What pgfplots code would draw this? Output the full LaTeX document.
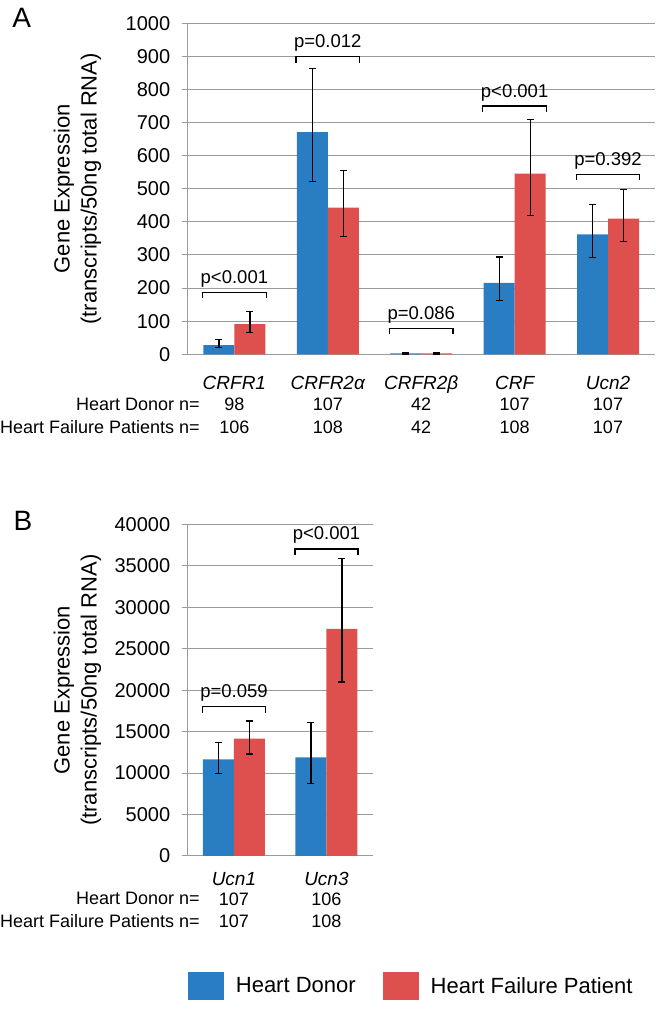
\documentclass[border=0pt]{standalone}
\usepackage{fontspec}
\setmainfont{Liberation Sans}
\usepackage{pgfplots}
\pgfplotsset{compat=1.18}
\definecolor{hdblue}{RGB}{41,126,195}
\definecolor{hfred}{RGB}{221,80,77}
\definecolor{gridgray}{RGB}{155,155,155}
\newcommand{\tickfont}{\fontsize{20bp}{24bp}\selectfont}
\newcommand{\catfont}{\fontsize{19bp}{22bp}\selectfont\itshape}
\newcommand{\rowfont}{\fontsize{18bp}{22bp}\selectfont}
\newcommand{\pfont}{\fontsize{18.5bp}{22bp}\selectfont}
\newcommand{\labfont}{\fontsize{22bp}{27bp}\selectfont}
\newcommand{\legfont}{\fontsize{22bp}{26bp}\selectfont}
\pgfplotsset{
  /pgfplots/ybar legend/.style={/pgfplots/legend image code/.code={\fill[##1] (0bp,-14bp) rectangle (36bp,14bp);}},
  panel/.style={
    scale only axis, anchor=south west, clip=false,
    ymin=0, axis lines=left, axis line style={-, draw=gridgray, line width=1bp},
    ymajorgrids, grid style={draw=gridgray, line width=1bp},
    tick align=outside, major tick length=6bp,
    ytick style={draw=gridgray, line width=1bp},
    xtick style={draw=none},
    yticklabel style={font=\tickfont, xshift=-8bp},
    /pgf/number format/assume math mode=true,
    /pgf/number format/1000 sep={},
    scaled y ticks=false,
    ybar=0pt, bar width=31bp,
    ylabel={Gene Expression\\(transcripts/50ng total RNA)},
    ylabel style={font=\labfont, align=center, anchor=center},
  },
  errs/.style={error bars/.cd, y dir=both, y explicit,
    error bar style={black, line width=1.2bp},
    error mark options={black, line width=1.2bp, mark size=3.5bp, rotate=90}},
}
% bracket: xleft, xright, xcenter, y, label
\newcommand{\bracket}[5]{%
  \draw[black, line width=1.2bp] ([yshift=-6bp]axis cs:#1,#4) -- (axis cs:#1,#4) -- (axis cs:#2,#4) -- ([yshift=-6bp]axis cs:#2,#4);
  \node[font=\pfont, anchor=base, yshift=9bp] at (axis cs:#3,#4) {#5};}

\begin{document}
\begin{tikzpicture}
\path[use as bounding box] (0,0) rectangle (656bp,1009bp);

% ---------------- Panel A ----------------
\begin{axis}[panel,
  at={(187.7bp,654.7bp)}, width=467bp, height=331bp,
  xmin=-0.5, xmax=4.5, ymax=1000,
  ytick={0,100,...,1000},
  xtick={0,1,2,3,4},
  xticklabels={CRFR1,CRFR2α,CRFR2β,CRF,Ucn2},
  xticklabel style={font=\catfont, anchor=base, yshift=-29bp},
  ylabel style={at={(axis description cs:-0.236,0.5)}},
]
\addplot[fill=hdblue, draw=none, errs] coordinates {
  (0,28) += (0,17) -= (0,8)
  (1,671) += (0,192) -= (0,150)
  (2,3) += (0,3) -= (0,2)
  (3,216) += (0,78) -= (0,53)
  (4,362) += (0,91) -= (0,69)
};
\addplot[fill=hfred, draw=none, errs] coordinates {
  (0,91) += (0,38) -= (0,26)
  (1,443) += (0,112) -= (0,88)
  (2,3) += (0,3) -= (0,2)
  (3,546) += (0,163) -= (0,126)
  (4,410) += (0,87) -= (0,70)
};
\bracket{-0.34}{0.34}{0}{187}{p<0.001}
\bracket{0.66}{1.34}{1}{899}{p=0.012}
\bracket{1.66}{2.34}{2}{78}{p=0.086}
\bracket{2.66}{3.34}{3}{750}{p<0.001}
\bracket{3.66}{4.34}{4}{544}{p=0.392}
\node[font=\rowfont, anchor=base] at ([yshift=-56.7bp]axis cs:0,0) {98};
\node[font=\rowfont, anchor=base] at ([yshift=-56.7bp]axis cs:1,0) {107};
\node[font=\rowfont, anchor=base] at ([yshift=-56.7bp]axis cs:2,0) {42};
\node[font=\rowfont, anchor=base] at ([yshift=-56.7bp]axis cs:3,0) {107};
\node[font=\rowfont, anchor=base] at ([yshift=-56.7bp]axis cs:4,0) {107};
\node[font=\rowfont, anchor=base] at ([yshift=-79bp]axis cs:0,0) {106};
\node[font=\rowfont, anchor=base] at ([yshift=-79bp]axis cs:1,0) {108};
\node[font=\rowfont, anchor=base] at ([yshift=-79bp]axis cs:2,0) {42};
\node[font=\rowfont, anchor=base] at ([yshift=-79bp]axis cs:3,0) {108};
\node[font=\rowfont, anchor=base] at ([yshift=-79bp]axis cs:4,0) {107};
\end{axis}

% ---------------- Panel B ----------------
\begin{axis}[panel,
  at={(187.7bp,153bp)}, width=185bp, height=331.7bp,
  xmin=-0.5, xmax=1.5, ymax=40000,
  ytick={0,5000,...,40000},
  xtick={0,1},
  xticklabels={Ucn1,Ucn3},
  xticklabel style={font=\catfont, anchor=base, yshift=-24bp},
  ylabel style={at={(axis description cs:-0.596,0.5)}},
  legend columns=2,
  legend style={at={(axis description cs:0,-0.392)}, anchor=west, draw=none, fill=none,
    inner sep=0pt, font=\legfont, nodes={inner sep=0pt},
    /tikz/every odd column/.append style={column sep=12bp},
    /tikz/every even column/.append style={column sep=27bp}},
  legend cell align=left,
]
\addplot[fill=hdblue, draw=none, errs] coordinates {
  (0,11650) += (0,2020) -= (0,1680)
  (1,11900) += (0,4220) -= (0,3140)
};
\addlegendentry{Heart Donor}
\addplot[fill=hfred, draw=none, errs] coordinates {
  (0,14150) += (0,2130) -= (0,1850)
  (1,27380) += (0,8520) -= (0,6390)
};
\addlegendentry{Heart Failure Patient}
\bracket{-0.34}{0.34}{0}{18010}{p=0.059}
\bracket{0.66}{1.34}{1}{37024}{p<0.001}
\node[font=\rowfont, anchor=base] at ([yshift=-49bp]axis cs:0,0) {107};
\node[font=\rowfont, anchor=base] at ([yshift=-49bp]axis cs:1,0) {106};
\node[font=\rowfont, anchor=base] at ([yshift=-71.7bp]axis cs:0,0) {107};
\node[font=\rowfont, anchor=base] at ([yshift=-71.7bp]axis cs:1,0) {108};
\end{axis}

% row headers and panel letters
\node[font=\rowfont, anchor=base east] at (203.3bp,598bp) {Heart Donor n=};
\node[font=\rowfont, anchor=base east] at (203.3bp,575.7bp) {Heart Failure Patients n=};
\node[font=\rowfont, anchor=base east] at (203.3bp,104bp) {Heart Donor n=};
\node[font=\rowfont, anchor=base east] at (203.3bp,81.3bp) {Heart Failure Patients n=};
\node[font=\fontsize{28bp}{32bp}\selectfont] at (21.7bp,991bp) {A};
\node[font=\fontsize{28bp}{32bp}\selectfont] at (23bp,488.5bp) {B};
\end{tikzpicture}
\end{document}
